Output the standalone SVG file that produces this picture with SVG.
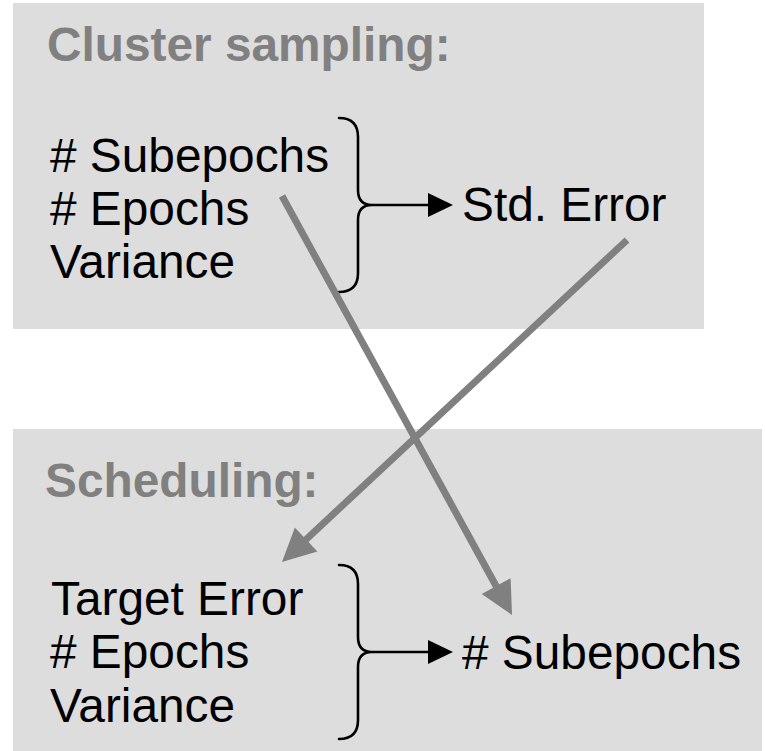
<svg xmlns="http://www.w3.org/2000/svg" width="765" height="751" viewBox="0 0 765 751">
  <style>
    .panel { fill: #dddddd; }
    .title { font-family: "Liberation Sans", Arial, sans-serif; font-size: 47.8px; font-weight: bold; fill: #808080; }
    .item { font-family: "Liberation Sans", Arial, sans-serif; font-size: 47.8px; fill: #000000; }
    .brace { fill: none; stroke: #000000; stroke-width: 2.6; stroke-linecap: round; }
    .flow { fill: none; stroke: #000000; stroke-width: 2.6; }
    .link { fill: none; stroke: #808080; stroke-width: 7; }
  </style>
  <defs>
    <marker id="blackHead" markerUnits="userSpaceOnUse" markerWidth="26" markerHeight="26" refX="2" refY="12" orient="auto" viewBox="0 0 26 26" overflow="visible">
      <path d="M0,0 L25,12 L0,24 z" fill="#000000"/>
    </marker>
    <marker id="grayHead" markerUnits="userSpaceOnUse" markerWidth="34" markerHeight="34" refX="3" refY="0" orient="auto" viewBox="0 -17 34 34" overflow="visible">
      <path d="M0,-16.5 L33,0 L0,16.5 z" fill="#808080"/>
    </marker>
    <path id="bracePath" d="M339,118 Q358,118 358,137 L358,190 Q358,205 372,205 Q358,205 358,220 L358,273 Q358,292 339,292"/>
  </defs>

  <!-- cluster sampling panel -->
  <g id="cluster-sampling">
    <rect class="panel" x="13" y="3" width="691" height="326"/>
    <text class="title" x="47" y="61">Cluster sampling:</text>
    <text class="item" x="50" y="172"># Subepochs</text>
    <text class="item" x="50" y="225"># Epochs</text>
    <text class="item" x="50" y="278">Variance</text>
    <use href="#bracePath" class="brace"/>
    <line class="flow" x1="372" y1="205" x2="430" y2="205" marker-end="url(#blackHead)"/>
    <text class="item" x="462" y="221">Std. Error</text>
  </g>

  <!-- scheduling panel -->
  <g id="scheduling">
    <rect class="panel" x="13" y="429" width="749" height="322"/>
    <text class="title" x="45" y="497">Scheduling:</text>
    <text class="item" x="51" y="615">Target Error</text>
    <text class="item" x="50" y="668"># Epochs</text>
    <text class="item" x="50" y="722">Variance</text>
    <use href="#bracePath" class="brace" transform="translate(0,447)"/>
    <line class="flow" x1="372" y1="652" x2="430" y2="652" marker-end="url(#blackHead)"/>
    <text class="item" x="462" y="669"># Subepochs</text>
  </g>

  <!-- links between the two panels -->
  <g id="connectors">
    <line class="link" x1="282" y1="196" x2="497.6" y2="588.7" marker-end="url(#grayHead)"/>
    <line class="link" x1="627" y1="240" x2="303.9" y2="541.5" marker-end="url(#grayHead)"/>
  </g>
</svg>
